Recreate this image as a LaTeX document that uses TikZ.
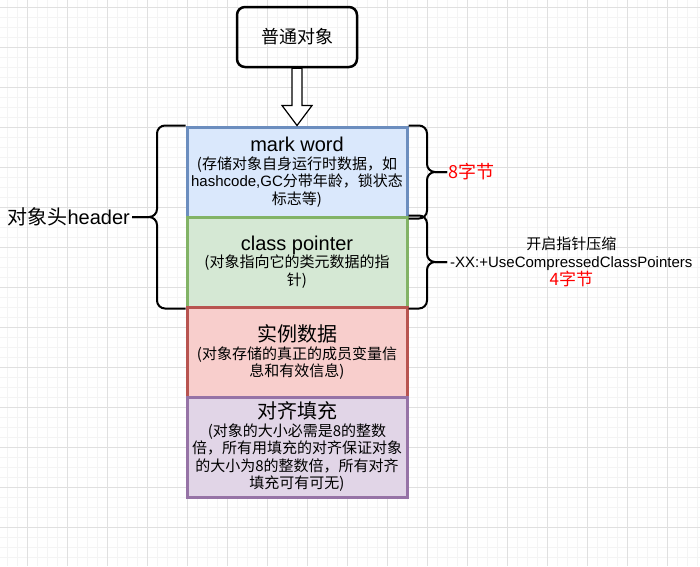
\documentclass[tikz,border=0pt]{standalone}
\usepackage{fontspec}
\setmainfont{Noto Sans CJK SC}
\newfontfamily\lat{Liberation Sans}
\usetikzlibrary{calc}

\definecolor{gridminor}{HTML}{F4F4F4}
\definecolor{gridmajor}{HTML}{E0E0E0}
\definecolor{markfill}{HTML}{DAE8FC}
\definecolor{markline}{HTML}{6C8EBF}
\definecolor{classfill}{HTML}{D5E8D4}
\definecolor{classline}{HTML}{82B366}
\definecolor{datafill}{HTML}{F8CECC}
\definecolor{dataline}{HTML}{B85450}
\definecolor{padfill}{HTML}{E1D5E7}
\definecolor{padline}{HTML}{9673A6}
\definecolor{lenred}{HTML}{FF0000}

\newcommand{\titlefont}{\fontsize{20}{22}\selectfont}
\newcommand{\notefont}{\fontsize{15}{17.5}\selectfont}

\begin{document}
\begin{tikzpicture}[
    x=1pt, y=-1pt,
    part/.style={rectangle, draw, line width=3pt, minimum width=220, align=center, inner sep=0pt, font=\notefont},
    objbox/.style={rectangle, draw, rounded corners=8pt, line width=2.5pt, minimum width=120, minimum height=60, font=\fontsize{18}{20}\selectfont},
    hollow/.style={draw, fill=white, line width=1.2pt, line join=miter},
    brace/.style={draw, line width=2pt, rounded corners=8pt},
    minor/.style={gridminor, line width=1pt},
    major/.style={gridmajor, line width=1pt}
]
    \useasboundingbox (0,0) rectangle (700,566);
    % background grid
    \foreach \gx in {7,17,...,697} \draw[minor] (\gx,0) -- (\gx,566);
    \foreach \gy in {7,17,...,557} \draw[minor] (0,\gy) -- (700,\gy);
    \foreach \gx in {27,67,...,667} \draw[major] (\gx,0) -- (\gx,566);
    \foreach \gy in {7,47,...,527} \draw[major] (0,\gy) -- (700,\gy);

    \node[objbox] (obj) at (297,37) {普通对象};

    \node[part, fill=markfill, draw=markline, minimum height=90] (mark) at (297,172)
        {{\titlefont\lat mark word}\\(存储对象自身运行时数据，如\\{\lat hashcode,GC}分带年龄，锁状态\\标志等)};
    \node[part, fill=classfill, draw=classline, minimum height=90] (class) at (297,262)
        {{\titlefont\lat class pointer}\\ (对象指向它的类元数据的指\\针)};
    \node[part, fill=datafill, draw=dataline, minimum height=90] (data) at (297,352)
        {{\titlefont 实例数据}\\ (对象存储的真正的成员变量信\\息和有效信息)};
    \node[part, fill=padfill, draw=padline, minimum height=100] (pad) at (297,447)
        {{\titlefont 对齐填充}\\ (对象的大小必需是8的整数\\倍，所有用填充的对齐保证对象\\的大小为8的整数倍，所有对齐\\填充可有可无)};

    % hollow arrow
    \draw[hollow] ($(obj.south)+(-5,0)$) -- ($(mark.north)+(-5,-20)$) -- ($(mark.north)+(-15,-20)$)
        -- (mark.north) -- ($(mark.north)+(15,-20)$) -- ($(mark.north)+(5,-20)$) -- ($(obj.south)+(5,0)$) -- cycle;

    % braces
    \coordinate (hdtip) at (132,217);
    \coordinate (t8) at (447,172);
    \coordinate (t4) at (447,262);
    \draw[brace] (mark.north west) -| (157,217) -- (hdtip);
    \draw[brace] (class.south west) -| (157,217) -- (hdtip);
    \draw[brace] (mark.north east) -| (427,172) -- (t8);
    \draw[brace] (mark.south east) -| (427,172) -- (t8);
    \draw[brace] (class.north east) -| (427,262) -- (t4);
    \draw[brace] (class.south east) -| (427,262) -- (t4);

    \node[anchor=east, inner sep=2pt, font=\titlefont] (hdr) at (hdtip) {对象头{\lat header}};
    \node[anchor=west, inner sep=1pt, text=lenred, font=\fontsize{18}{20}\selectfont] (len8) at (t8) {8字节};
    \node[anchor=west, inner sep=3pt, align=center, font=\notefont] (ptr) at (t4)
        {开启指针压缩\\{\lat -XX:+UseCompressedClassPointers}\\{\color{lenred}\fontsize{17}{18}\selectfont 4字节}};
\end{tikzpicture}
\end{document}
